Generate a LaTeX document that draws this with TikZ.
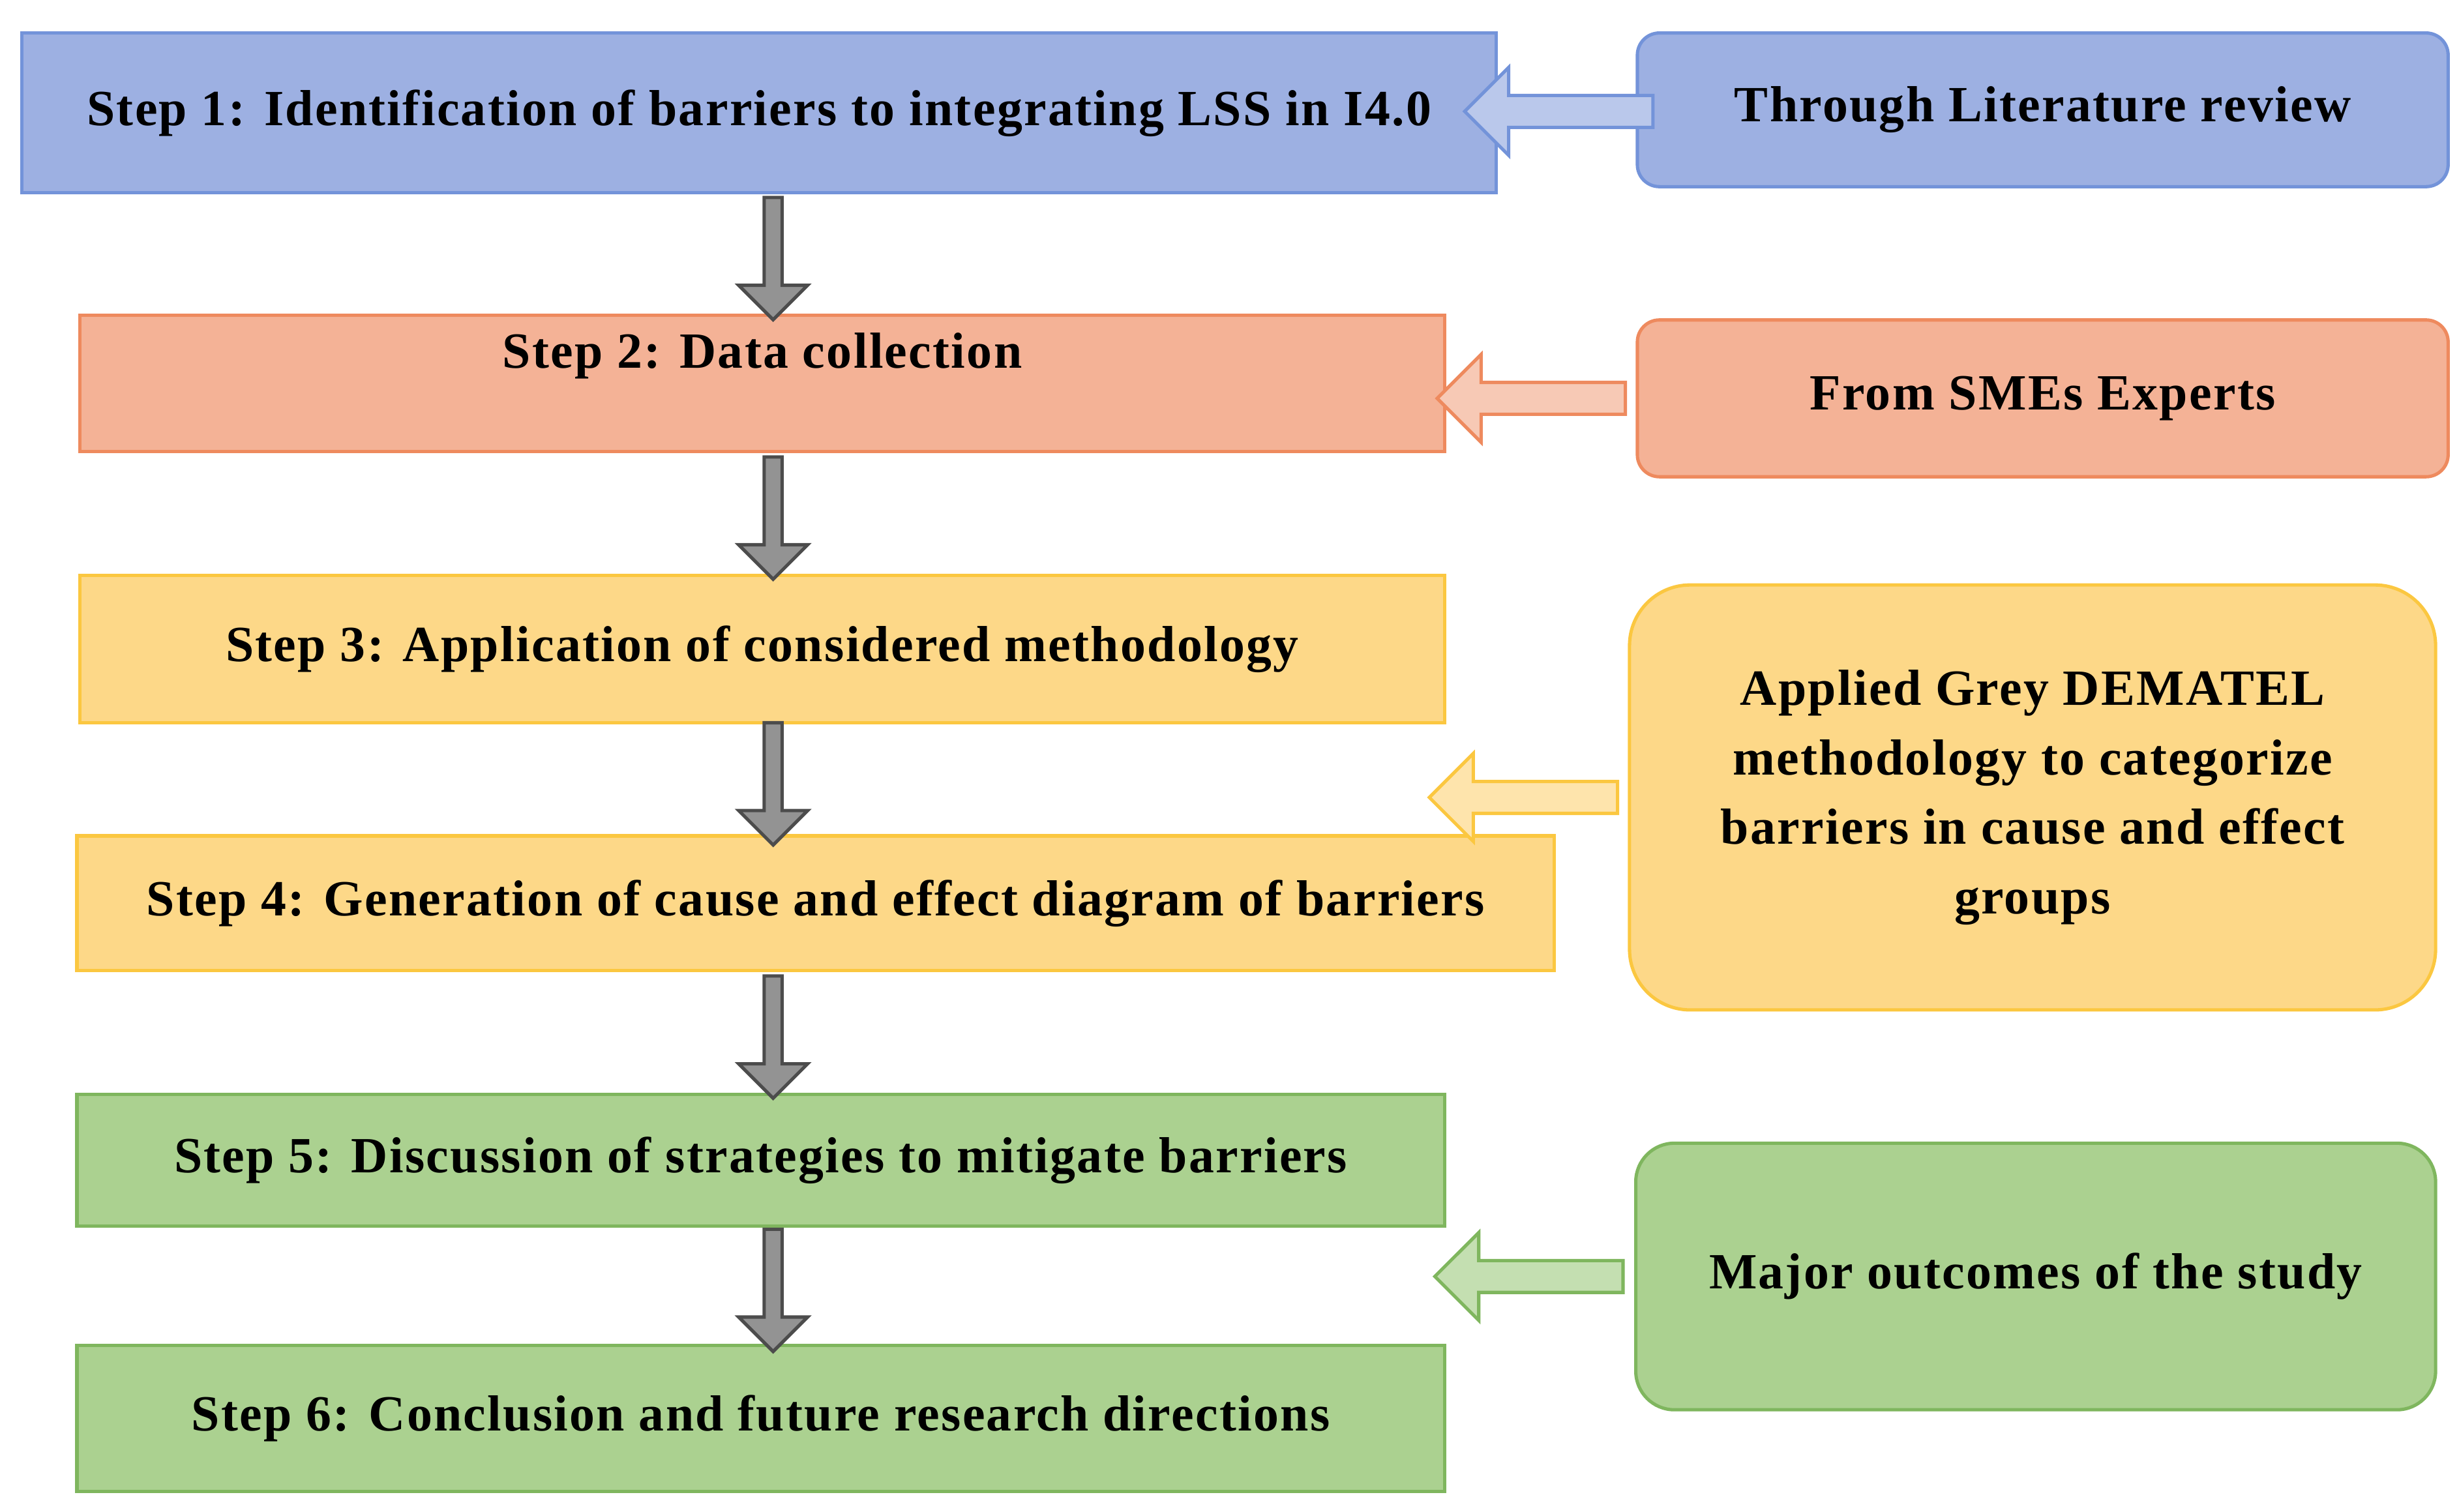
\documentclass[tikz,border=0pt]{standalone}
\usepackage{fontspec}
\setmainfont{Liberation Serif}[LetterSpace=3]
\usetikzlibrary{shapes.arrows, positioning, calc}
\definecolor{bluefill}{HTML}{9DB0E2}
\definecolor{bluedraw}{HTML}{7393D9}
\definecolor{orangefill}{HTML}{F4B296}
\definecolor{orangedraw}{HTML}{EE8A5E}
\definecolor{yellowfill}{HTML}{FDD888}
\definecolor{yellowdraw}{HTML}{FBC740}
\definecolor{greenfill}{HTML}{ABD190}
\definecolor{greendraw}{HTML}{7FB65E}
\begin{document}
\begin{tikzpicture}[
    stepbox/.style={
        draw,
        line width=0.6pt,
        anchor=north west,
        align=center,
        inner sep=0pt,
        font=\fontsize{9.2}{11.5}\selectfont\bfseries
    },
    sidebox/.style={
        stepbox,
        rounded corners=4pt
    },
    downarrow/.style={
        single arrow,
        draw=black!70,
        fill=gray!85,
        line width=0.6pt,
        shape border rotate=270,
        minimum width=0.44cm,
        minimum height=0.78cm,
        single arrow head extend=0.08cm,
        single arrow head indent=0pt,
        inner sep=0.5pt
    },
    leftarrow/.style={
        single arrow,
        line width=0.6pt,
        shape border rotate=180,
        minimum width=0.56cm,
        minimum height=1.2cm,
        single arrow head extend=0.08cm,
        inner sep=1pt
    }
]
\useasboundingbox (0,0) rectangle (15.68,9.64);

% Steps
\node[stepbox, fill=bluefill, draw=bluedraw, minimum width=9.40cm, minimum height=1.02cm] (s1) at (0.13,9.44) {Step 1: Identification of barriers to integrating LSS in I4.0};
\node[stepbox, fill=orangefill, draw=orangedraw, minimum width=8.70cm, minimum height=0.87cm] (s2) at (0.50,7.64) {Step 2: Data collection\\[0.02cm]};
\node[stepbox, fill=yellowfill, draw=yellowdraw, minimum width=8.70cm, minimum height=0.94cm] (s3) at (0.50,5.98) {Step 3: Application of considered methodology};
\node[stepbox, fill=yellowfill, draw=yellowdraw, minimum width=9.42cm, minimum height=0.86cm] (s4) at (0.48,4.32) {Step 4: Generation of cause and effect diagram of barriers};
\node[stepbox, fill=greenfill, draw=greendraw, minimum width=8.72cm, minimum height=0.84cm] (s5) at (0.48,2.67) {Step 5: Discussion of strategies to mitigate barriers};
\node[stepbox, fill=greenfill, draw=greendraw, minimum width=8.72cm, minimum height=0.93cm] (s6) at (0.48,1.07) {Step 6: Conclusion and future research directions};

% Sources
\node[sidebox, fill=bluefill, draw=bluedraw, minimum width=5.17cm, minimum height=0.98cm] (lit) at (10.43,9.44) {Through Literature review};
\node[sidebox, fill=orangefill, draw=orangedraw, minimum width=5.17cm, minimum height=1.00cm] (sme) at (10.43,7.61) {From SMEs Experts};
\node[sidebox, fill=yellowfill, draw=yellowdraw, rounded corners=11pt, minimum width=5.14cm, minimum height=2.71cm] (grey) at (10.38,5.92) {Applied Grey DEMATEL\\[0.04cm]methodology to categorize\\[0.04cm]barriers in cause and effect\\[0.04cm]groups};
\node[sidebox, fill=greenfill, draw=greendraw, rounded corners=7pt, minimum width=5.10cm, minimum height=1.70cm] (out) at (10.42,2.36) {Major outcomes of the study};

% Down arrows
\foreach \a/\b in {s1/s2, s2/s3, s3/s4, s4/s5, s5/s6}
  \node[downarrow] at ($(4.93,0|-\a.south)!0.5!(4.93,0|-\b.north)$) {};

% Side arrows
\node[leftarrow, fill=bluefill!70, draw=bluedraw] at ($(lit.west)!0.5!(s1.east)$) {};
\node[leftarrow, fill=orangefill!70, draw=orangedraw] at ($(sme.west)!0.5!(9.20,0|-sme.west)$) {};
\node[leftarrow, fill=yellowfill!70, draw=yellowdraw] at ($(grey.west)!0.5!(9.15,0|-grey.west)$) {};
\node[leftarrow, fill=greenfill!70, draw=greendraw] at ($(out.west)!0.5!(9.18,0|-out.west)$) {};
\end{tikzpicture}
\end{document}
